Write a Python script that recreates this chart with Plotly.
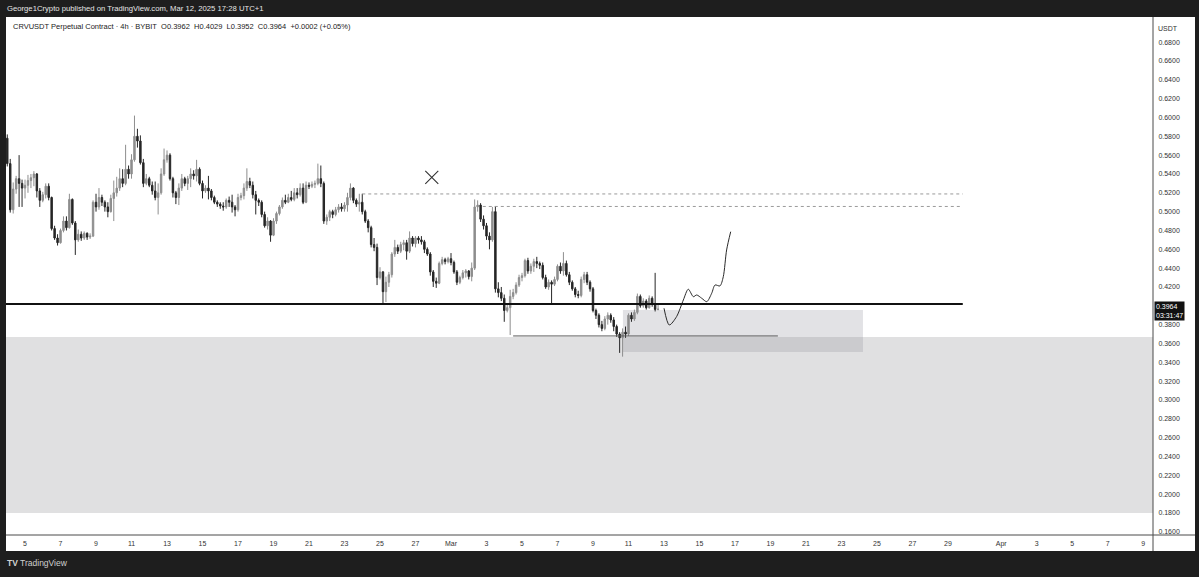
import plotly.graph_objects as go
import pandas as pd

# ---------------- data (4h candles, CRVUSDT) ----------------
first_bar = "2025-02-04 00:00"
opens = [
    0.578, 0.551, 0.502, 0.524, 0.535, 0.530,
    0.525, 0.528, 0.533, 0.536, 0.540, 0.522,
    0.512, 0.518, 0.527, 0.515, 0.482, 0.472,
    0.467, 0.480, 0.490, 0.483, 0.513, 0.488,
    0.470, 0.476, 0.472, 0.477, 0.473, 0.474,
    0.510, 0.505, 0.515, 0.510, 0.505, 0.500,
    0.514, 0.520, 0.525, 0.535, 0.530, 0.545,
    0.540, 0.555, 0.580, 0.575, 0.552, 0.530,
    0.535, 0.528, 0.522, 0.515, 0.520, 0.540,
    0.555, 0.560, 0.535, 0.520, 0.515, 0.525,
    0.535, 0.530, 0.535, 0.540, 0.538, 0.545,
    0.530, 0.522, 0.525, 0.522, 0.515, 0.510,
    0.508, 0.506, 0.505, 0.512, 0.510, 0.505,
    0.502, 0.515, 0.517, 0.525, 0.532, 0.528,
    0.518, 0.512, 0.510, 0.497, 0.485, 0.490,
    0.475, 0.490, 0.498, 0.505, 0.512, 0.510,
    0.515, 0.513, 0.520, 0.518, 0.525, 0.510,
    0.528, 0.527, 0.529, 0.530, 0.535, 0.530,
    0.490, 0.494, 0.500, 0.497, 0.502, 0.505,
    0.503, 0.507, 0.515, 0.525, 0.512, 0.508,
    0.510, 0.500, 0.490, 0.483, 0.465, 0.462,
    0.430, 0.436, 0.415, 0.425, 0.433, 0.455,
    0.462, 0.458, 0.465, 0.467, 0.458, 0.472,
    0.466, 0.472, 0.470, 0.468, 0.460, 0.455,
    0.436, 0.426, 0.424, 0.445, 0.449, 0.447,
    0.450, 0.446, 0.436, 0.425, 0.430, 0.435,
    0.437, 0.431, 0.440, 0.505, 0.507, 0.492,
    0.485, 0.474, 0.470, 0.500, 0.418, 0.414,
    0.408, 0.395, 0.398, 0.410, 0.414, 0.422,
    0.430, 0.432, 0.448, 0.437, 0.442, 0.447,
    0.445, 0.443, 0.430, 0.420, 0.425, 0.423,
    0.428, 0.442, 0.437, 0.445, 0.433, 0.425,
    0.418, 0.412, 0.411, 0.428, 0.433, 0.425,
    0.418, 0.395, 0.390, 0.380, 0.376, 0.386,
    0.390, 0.385, 0.378, 0.370, 0.366, 0.372,
    0.370, 0.390, 0.386, 0.393, 0.410, 0.400,
    0.405, 0.398, 0.408, 0.402, 0.3962,
]
highs = [
    0.582, 0.556, 0.531, 0.538, 0.560, 0.534,
    0.534, 0.539, 0.540, 0.543, 0.541, 0.525,
    0.521, 0.530, 0.530, 0.516, 0.485, 0.476,
    0.482, 0.495, 0.495, 0.519, 0.514, 0.490,
    0.481, 0.479, 0.479, 0.478, 0.477, 0.512,
    0.519, 0.525, 0.518, 0.512, 0.510, 0.518,
    0.533, 0.537, 0.546, 0.545, 0.571, 0.549,
    0.561, 0.602, 0.588, 0.581, 0.556, 0.540,
    0.537, 0.532, 0.532, 0.530, 0.546, 0.567,
    0.565, 0.562, 0.537, 0.522, 0.530, 0.540,
    0.537, 0.538, 0.546, 0.544, 0.555, 0.547,
    0.533, 0.528, 0.538, 0.524, 0.517, 0.512,
    0.510, 0.510, 0.514, 0.516, 0.518, 0.507,
    0.519, 0.520, 0.530, 0.546, 0.536, 0.532,
    0.522, 0.514, 0.512, 0.500, 0.494, 0.491,
    0.493, 0.500, 0.507, 0.515, 0.518, 0.519,
    0.522, 0.525, 0.525, 0.530, 0.530, 0.532,
    0.531, 0.532, 0.533, 0.551, 0.549, 0.532,
    0.497, 0.502, 0.502, 0.505, 0.508, 0.509,
    0.510, 0.520, 0.530, 0.526, 0.514, 0.519,
    0.519, 0.502, 0.492, 0.485, 0.472, 0.466,
    0.441, 0.437, 0.431, 0.436, 0.457, 0.470,
    0.465, 0.468, 0.470, 0.470, 0.479, 0.474,
    0.474, 0.474, 0.474, 0.470, 0.462, 0.457,
    0.438, 0.430, 0.447, 0.452, 0.451, 0.452,
    0.456, 0.448, 0.438, 0.432, 0.438, 0.439,
    0.438, 0.446, 0.513, 0.512, 0.509, 0.496,
    0.488, 0.478, 0.505, 0.506, 0.425, 0.420,
    0.412, 0.401, 0.417, 0.418, 0.425, 0.433,
    0.435, 0.450, 0.451, 0.445, 0.450, 0.452,
    0.447, 0.446, 0.433, 0.428, 0.427, 0.431,
    0.444, 0.446, 0.457, 0.448, 0.436, 0.427,
    0.420, 0.416, 0.431, 0.436, 0.436, 0.427,
    0.420, 0.397, 0.392, 0.384, 0.389, 0.393,
    0.392, 0.388, 0.380, 0.372, 0.376, 0.378,
    0.392, 0.393, 0.396, 0.413, 0.412, 0.408,
    0.407, 0.411, 0.410, 0.435, 0.4029,
]
lows = [
    0.548, 0.499, 0.498, 0.519, 0.505, 0.505,
    0.514, 0.520, 0.525, 0.527, 0.515, 0.505,
    0.510, 0.514, 0.512, 0.480, 0.470, 0.464,
    0.466, 0.478, 0.480, 0.482, 0.486, 0.454,
    0.468, 0.469, 0.470, 0.470, 0.471, 0.473,
    0.500, 0.502, 0.506, 0.500, 0.494, 0.499,
    0.490, 0.516, 0.522, 0.526, 0.528, 0.535,
    0.535, 0.553, 0.568, 0.550, 0.526, 0.528,
    0.526, 0.518, 0.512, 0.497, 0.518, 0.538,
    0.552, 0.533, 0.515, 0.508, 0.507, 0.522,
    0.527, 0.523, 0.526, 0.534, 0.532, 0.528,
    0.514, 0.520, 0.513, 0.512, 0.508, 0.505,
    0.503, 0.501, 0.503, 0.505, 0.499, 0.495,
    0.500, 0.512, 0.513, 0.522, 0.525, 0.514,
    0.497, 0.506, 0.494, 0.483, 0.481, 0.468,
    0.474, 0.487, 0.496, 0.503, 0.508, 0.509,
    0.511, 0.511, 0.514, 0.516, 0.508, 0.509,
    0.524, 0.525, 0.525, 0.528, 0.526, 0.487,
    0.486, 0.490, 0.493, 0.495, 0.499, 0.500,
    0.500, 0.500, 0.512, 0.509, 0.505, 0.500,
    0.497, 0.488, 0.478, 0.462, 0.458, 0.422,
    0.428, 0.402, 0.404, 0.420, 0.430, 0.452,
    0.455, 0.456, 0.459, 0.449, 0.456, 0.463,
    0.462, 0.466, 0.465, 0.456, 0.453, 0.432,
    0.420, 0.419, 0.423, 0.443, 0.444, 0.445,
    0.443, 0.434, 0.422, 0.423, 0.428, 0.430,
    0.428, 0.426, 0.438, 0.500, 0.489, 0.481,
    0.470, 0.460, 0.468, 0.414, 0.409, 0.405,
    0.383, 0.393, 0.369, 0.407, 0.412, 0.420,
    0.426, 0.430, 0.434, 0.434, 0.436, 0.440,
    0.439, 0.428, 0.418, 0.417, 0.402, 0.421,
    0.426, 0.434, 0.432, 0.431, 0.422, 0.416,
    0.409, 0.408, 0.409, 0.424, 0.422, 0.415,
    0.393, 0.386, 0.377, 0.373, 0.374, 0.380,
    0.382, 0.373, 0.367, 0.350, 0.346, 0.366,
    0.368, 0.383, 0.384, 0.391, 0.398, 0.398,
    0.396, 0.397, 0.399, 0.394, 0.3952,
]
closes = [
    0.551, 0.502, 0.524, 0.535, 0.530, 0.525,
    0.528, 0.533, 0.536, 0.540, 0.522, 0.512,
    0.518, 0.527, 0.515, 0.482, 0.472, 0.467,
    0.480, 0.490, 0.483, 0.513, 0.488, 0.470,
    0.476, 0.472, 0.477, 0.473, 0.474, 0.510,
    0.505, 0.515, 0.510, 0.505, 0.500, 0.514,
    0.520, 0.525, 0.535, 0.530, 0.545, 0.540,
    0.555, 0.580, 0.575, 0.552, 0.530, 0.535,
    0.528, 0.522, 0.515, 0.520, 0.540, 0.555,
    0.560, 0.535, 0.520, 0.515, 0.525, 0.535,
    0.530, 0.535, 0.540, 0.538, 0.545, 0.530,
    0.522, 0.525, 0.522, 0.515, 0.510, 0.508,
    0.506, 0.505, 0.512, 0.510, 0.505, 0.502,
    0.515, 0.517, 0.525, 0.532, 0.528, 0.518,
    0.512, 0.510, 0.497, 0.485, 0.490, 0.475,
    0.490, 0.498, 0.505, 0.512, 0.510, 0.515,
    0.513, 0.520, 0.518, 0.525, 0.510, 0.528,
    0.527, 0.529, 0.530, 0.535, 0.530, 0.490,
    0.494, 0.500, 0.497, 0.502, 0.505, 0.503,
    0.507, 0.515, 0.525, 0.512, 0.508, 0.510,
    0.500, 0.490, 0.483, 0.465, 0.462, 0.430,
    0.436, 0.415, 0.425, 0.433, 0.455, 0.462,
    0.458, 0.465, 0.467, 0.458, 0.472, 0.466,
    0.472, 0.470, 0.468, 0.460, 0.455, 0.436,
    0.426, 0.424, 0.445, 0.449, 0.447, 0.450,
    0.446, 0.436, 0.425, 0.430, 0.435, 0.437,
    0.431, 0.440, 0.505, 0.507, 0.492, 0.485,
    0.474, 0.470, 0.500, 0.418, 0.414, 0.408,
    0.395, 0.398, 0.410, 0.414, 0.422, 0.430,
    0.432, 0.448, 0.437, 0.442, 0.447, 0.445,
    0.443, 0.430, 0.420, 0.425, 0.423, 0.428,
    0.442, 0.437, 0.445, 0.433, 0.425, 0.418,
    0.412, 0.411, 0.428, 0.433, 0.425, 0.418,
    0.395, 0.390, 0.380, 0.376, 0.386, 0.390,
    0.385, 0.378, 0.370, 0.366, 0.372, 0.370,
    0.390, 0.386, 0.393, 0.410, 0.400, 0.405,
    0.398, 0.408, 0.402, 0.3962, 0.3964,
]

# drawings (levels / zones)
support_level = 0.402
support_start = "2025-02-03 22:00"
lines_end = "2025-03-29 20:00"
dotted_levels = [0.5188, 0.5055]
dotted_starts = ["2025-02-24 00:00", "2025-03-02 19:00"]
low_level = 0.368
low_line_dates = ["2025-03-04 12:00", "2025-03-19 10:00"]
demand_zone = [0.180, 0.3669]
box_dates = ["2025-03-10 16:30", "2025-03-24 05:00"]
box_prices = [0.351, 0.3956]
projection_dates = ["2025-03-13 00:00", "2025-03-13 07:10", "2025-03-13 17:00", "2025-03-14 02:10",
                    "2025-03-14 08:50", "2025-03-14 15:40", "2025-03-14 20:10", "2025-03-15 03:00",
                    "2025-03-15 09:50", "2025-03-15 16:30", "2025-03-15 21:00", "2025-03-16 03:40",
                    "2025-03-16 08:10", "2025-03-16 12:40", "2025-03-16 18:10"]
projection_prices = [0.3974, 0.3796, 0.3885, 0.4062, 0.4176, 0.4097, 0.4115, 0.4080,
                     0.4044, 0.4133, 0.4221, 0.4211, 0.4309, 0.4593, 0.4787]
cross_date = ["2025-02-27 22:00"]
cross_price = [0.5365]

x_range = ["2025-02-03 22:17", "2025-04-09 13:12"]
y_range = [0.1566, 0.7067]
x_tick_dates = ["2025-02-05", "2025-02-07", "2025-02-09", "2025-02-11", "2025-02-13", "2025-02-15",
                "2025-02-17", "2025-02-19", "2025-02-21", "2025-02-23", "2025-02-25", "2025-02-27",
                "2025-03-01", "2025-03-03", "2025-03-05", "2025-03-07", "2025-03-09", "2025-03-11",
                "2025-03-13", "2025-03-15", "2025-03-17", "2025-03-19", "2025-03-21", "2025-03-23",
                "2025-03-25", "2025-03-27", "2025-03-29", "2025-04-01", "2025-04-03", "2025-04-05",
                "2025-04-07", "2025-04-09"]
x_tick_labels = ["5", "7", "9", "11", "13", "15", "17", "19", "21", "23", "25", "27", "Mar",
                 "3", "5", "7", "9", "11", "13", "15", "17", "19", "21", "23", "25", "27", "29",
                 "Apr", "3", "5", "7", "9"]
# 0.4000 is hidden behind the last-price label in the original
y_tick_vals = [0.16, 0.18, 0.20, 0.22, 0.24, 0.26, 0.28, 0.30, 0.32, 0.34, 0.36, 0.38,
               0.42, 0.44, 0.46, 0.48, 0.50, 0.52, 0.54, 0.56, 0.58, 0.60, 0.62, 0.64, 0.66, 0.68]
y_tick_labels = ["0.1600", "0.1800", "0.2000", "0.2200", "0.2400", "0.2600", "0.2800", "0.3000",
                 "0.3200", "0.3400", "0.3600", "0.3800", "0.4200", "0.4400", "0.4600",
                 "0.4800", "0.5000", "0.5200", "0.5400", "0.5600", "0.5800", "0.6000", "0.6200",
                 "0.6400", "0.6600", "0.6800"]

header_text = "George1Crypto published on TradingView.com, Mar 12, 2025 17:28 UTC+1"
legend_text = ("CRVUSDT Perpetual Contract · 4h · BYBIT&nbsp;&nbsp;O0.3962&nbsp;&nbsp;H0.4029&nbsp;&nbsp;"
               "L0.3952&nbsp;&nbsp;C0.3964&nbsp;&nbsp;+0.0002 (+0.05%)")
last_label = "0.3964<br>03:31:47"

# ---------------- layout geometry ----------------
W, H = 1199, 577
PL, PR, PT, PB = 6, 1153, 17, 535


def px_x(x):
    return (x - PL) / (PR - PL)


def px_y(y):
    return (PB - y) / (PB - PT)


FONT = "Liberation Sans, Arial, sans-serif"
times = pd.date_range(first_bar, periods=len(closes), freq="4h")

fig = go.Figure()
fig.add_trace(go.Candlestick(
    x=times, open=opens, high=highs, low=lows, close=closes,
    increasing=dict(line=dict(color="#8e8e8e", width=1), fillcolor="#8e8e8e"),
    decreasing=dict(line=dict(color="#262626", width=1), fillcolor="#262626"),
    whiskerwidth=0, hoverinfo="skip", showlegend=False,
))
fig.add_trace(go.Scatter(
    x=projection_dates, y=projection_prices, mode="lines",
    line=dict(color="#2a2a2a", width=1, shape="spline", smoothing=0.8),
    hoverinfo="skip", showlegend=False,
))
fig.add_trace(go.Scatter(
    x=cross_date, y=cross_price, mode="markers",
    marker=dict(symbol="x-thin", size=13, line=dict(color="#333333", width=1.1)),
    hoverinfo="skip", showlegend=False,
))

shapes = []
# white chart panel strips outside plot area (axis regions)
shapes.append(dict(type="rect", xref="paper", yref="paper", x0=px_x(PR), x1=px_x(1195),
                   y0=px_y(551), y1=px_y(PT), fillcolor="white", line=dict(width=0), layer="below"))
shapes.append(dict(type="rect", xref="paper", yref="paper", x0=0, x1=px_x(1195),
                   y0=px_y(551), y1=px_y(PB), fillcolor="white", line=dict(width=0), layer="below"))
# demand zone band
shapes.append(dict(type="rect", xref="paper", yref="y", x0=0, x1=1, y0=demand_zone[0], y1=demand_zone[1],
                   fillcolor="#e0e0e1", line=dict(width=0), layer="below"))
# small box
shapes.append(dict(type="rect", xref="x", yref="y", x0=box_dates[0], x1=box_dates[1],
                   y0=box_prices[0], y1=box_prices[1], fillcolor="rgba(140,140,150,0.25)",
                   line=dict(width=0), layer="below"))
# support line
shapes.append(dict(type="line", xref="x", yref="y", x0=support_start, x1=lines_end,
                   y0=support_level, y1=support_level, line=dict(color="#111111", width=2)))
# dotted resistance lines
for lvl, st in zip(dotted_levels, dotted_starts):
    shapes.append(dict(type="line", xref="x", yref="y", x0=st, x1=lines_end, y0=lvl, y1=lvl,
                       line=dict(color="#9a9a9a", width=1, dash="dot")))
# low line
shapes.append(dict(type="line", xref="x", yref="y", x0=low_line_dates[0], x1=low_line_dates[1],
                   y0=low_level, y1=low_level, line=dict(color="#5a5a5a", width=1)))
# axis separators
shapes.append(dict(type="line", xref="paper", yref="paper", x0=1, x1=1, y0=px_y(551), y1=px_y(PT),
                   line=dict(color="#4a4a4a", width=1)))
shapes.append(dict(type="line", xref="paper", yref="paper", x0=0, x1=px_x(1195), y0=0, y1=0,
                   line=dict(color="#4a4a4a", width=1)))

annotations = [
    dict(xref="paper", yref="paper", x=px_x(4.5), y=px_y(8.5), xanchor="left", yanchor="middle",
         text=header_text, showarrow=False, font=dict(family=FONT, size=7.7, color="#e6e6e6")),
    dict(xref="paper", yref="paper", x=px_x(11), y=px_y(27), xanchor="left", yanchor="middle",
         text=legend_text, showarrow=False, font=dict(family=FONT, size=7.5, color="#222222")),
    dict(xref="paper", yref="paper", x=px_x(1168), y=px_y(29), xanchor="center", yanchor="middle",
         text="USDT", showarrow=False, font=dict(family=FONT, size=7, color="#333333"),
         bgcolor="white"),
    dict(xref="paper", yref="y", x=px_x(1154), y=closes[-1], yshift=-2, xanchor="left", yanchor="middle",
         text=last_label, showarrow=False, align="left", bgcolor="#111111", borderpad=1,
         font=dict(family=FONT, size=7, color="white")),
    dict(xref="paper", yref="paper", x=px_x(5), y=px_y(563), xanchor="left", yanchor="middle",
         text="<b>TV</b> TradingView", showarrow=False, font=dict(family=FONT, size=8.5, color="#d0d0d0")),
]

fig.update_layout(
    width=W, height=H, autosize=False,
    margin=dict(l=PL, r=W - PR, t=PT, b=H - PB, pad=0),
    paper_bgcolor="#1e1e1e", plot_bgcolor="white",
    shapes=shapes, annotations=annotations,
    showlegend=False, hovermode=False,
    xaxis=dict(range=x_range, type="date", tickvals=x_tick_dates, ticktext=x_tick_labels,
               showgrid=False, zeroline=False, showline=False, ticks="",
               ticklabelstandoff=3,
               tickfont=dict(family=FONT, size=7, color="#333333"),
               rangeslider=dict(visible=False), fixedrange=True),
    yaxis=dict(range=y_range, side="right", tickvals=y_tick_vals, ticktext=y_tick_labels,
               showgrid=False, zeroline=False, showline=False, ticks="outside", ticklen=3,
               tickcolor="rgba(0,0,0,0)",
               tickfont=dict(family=FONT, size=7, color="#333333"), fixedrange=True),
)

fig.write_html("out.html", config={"displayModeBar": False, "staticPlot": True},
               post_script="document.body.style.margin='0';document.body.style.overflow='hidden';")
